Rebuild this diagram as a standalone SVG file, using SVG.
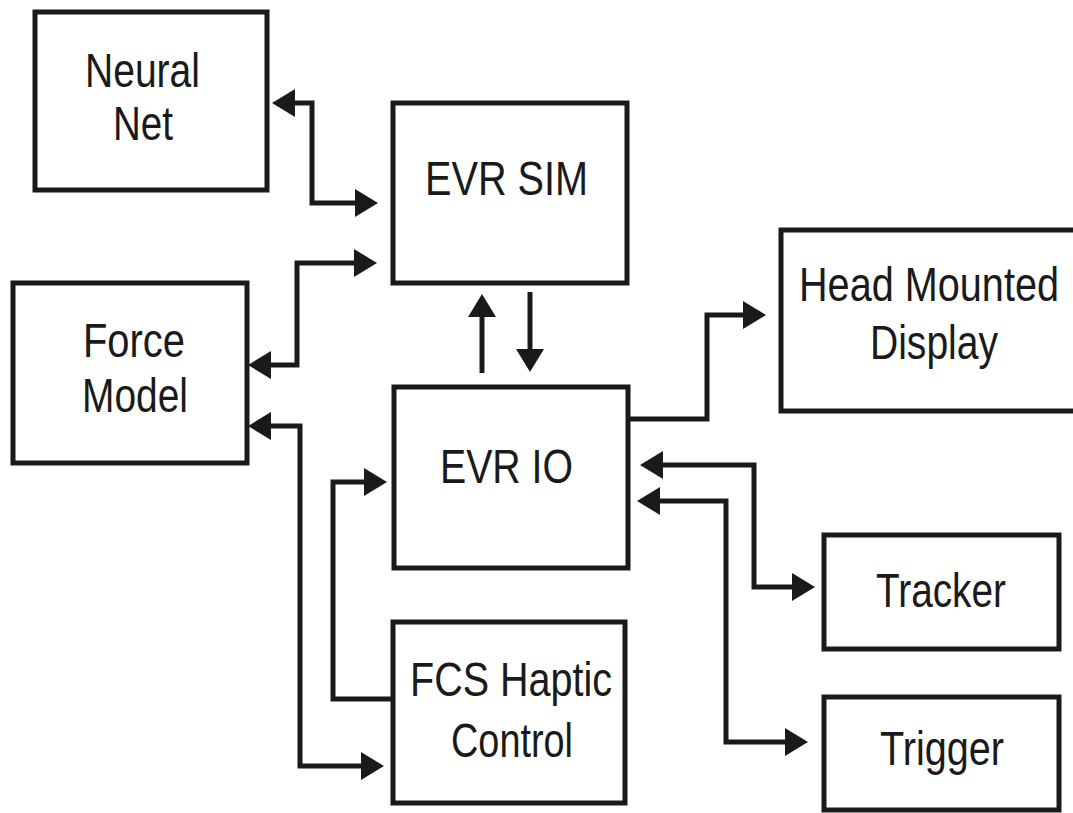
<svg xmlns="http://www.w3.org/2000/svg" width="1073" height="813" viewBox="0 0 1073 813">
<style>
.box{fill:#fff;stroke:#1a1a1a;stroke-width:5}
.lbl{font-family:"Liberation Sans",Arial,sans-serif;font-size:48px;fill:#1a1a1a}
.con{fill:none;stroke:#1a1a1a;stroke-width:5;stroke-linejoin:miter}
</style>
<defs>
<marker id="ah" markerUnits="userSpaceOnUse" markerWidth="26" markerHeight="30" refX="2" refY="14" orient="auto-start-reverse">
<path d="M0,0 L23,14 L0,28 z" fill="#1a1a1a"/>
</marker>
</defs>
<rect width="1073" height="813" fill="#fff"/>
<g id="connectors">
<path class="con" d="M293,103 H312 V203 H357" marker-start="url(#ah)" marker-end="url(#ah)"/>
<path class="con" d="M269,365 H297 V263 H356" marker-start="url(#ah)" marker-end="url(#ah)"/>
<path class="con" d="M269,426 H300 V766 H363" marker-start="url(#ah)" marker-end="url(#ah)"/>
<path class="con" d="M393,699 H333 V482 H366" marker-end="url(#ah)"/>
<path class="con" d="M482,373 V315" marker-end="url(#ah)"/>
<path class="con" d="M530,292 V351" marker-end="url(#ah)"/>
<path class="con" d="M628,419 H707 V315 H745" marker-end="url(#ah)"/>
<path class="con" d="M661,465 H754 V587 H794" marker-start="url(#ah)" marker-end="url(#ah)"/>
<path class="con" d="M658,501 H726 V742 H787" marker-start="url(#ah)" marker-end="url(#ah)"/>
</g>
<g id="neural-net">
<rect class="box" x="35" y="12" width="232" height="178"/>
<text class="lbl" x="85" y="87" textLength="115" lengthAdjust="spacingAndGlyphs">Neural</text>
<text class="lbl" x="113" y="140" textLength="60" lengthAdjust="spacingAndGlyphs">Net</text>
</g>
<g id="evr-sim">
<rect class="box" x="393" y="103" width="234" height="180"/>
<text class="lbl" x="425" y="195" textLength="163" lengthAdjust="spacingAndGlyphs">EVR SIM</text>
</g>
<g id="force-model">
<rect class="box" x="13" y="283" width="234" height="180"/>
<text class="lbl" x="83" y="357" textLength="102" lengthAdjust="spacingAndGlyphs">Force</text>
<text class="lbl" x="82" y="412" textLength="106" lengthAdjust="spacingAndGlyphs">Model</text>
</g>
<g id="evr-io">
<rect class="box" x="394" y="387" width="234" height="181"/>
<text class="lbl" x="440" y="483" textLength="133" lengthAdjust="spacingAndGlyphs">EVR IO</text>
</g>
<g id="fcs-haptic-control">
<rect class="box" x="393" y="622" width="232" height="181"/>
<text class="lbl" x="410" y="696" textLength="202" lengthAdjust="spacingAndGlyphs">FCS Haptic</text>
<text class="lbl" x="451" y="757" textLength="122" lengthAdjust="spacingAndGlyphs">Control</text>
</g>
<g id="head-mounted-display">
<rect class="box" x="781" y="230" width="300" height="181"/>
<text class="lbl" x="799" y="301" textLength="260" lengthAdjust="spacingAndGlyphs">Head Mounted</text>
<text class="lbl" x="870" y="359" textLength="128" lengthAdjust="spacingAndGlyphs">Display</text>
</g>
<g id="tracker">
<rect class="box" x="824" y="535" width="235" height="114"/>
<text class="lbl" x="876" y="607" textLength="130" lengthAdjust="spacingAndGlyphs">Tracker</text>
</g>
<g id="trigger">
<rect class="box" x="824" y="697" width="235" height="113"/>
<text class="lbl" x="880" y="765" textLength="124" lengthAdjust="spacingAndGlyphs">Trigger</text>
</g>
</svg>
